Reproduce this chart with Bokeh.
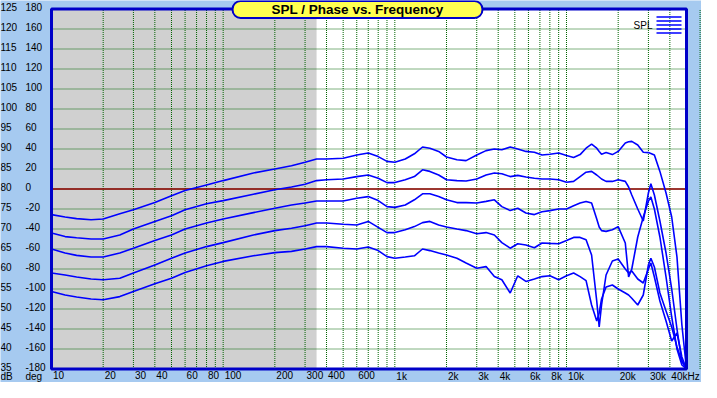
import math
from bokeh.plotting import figure
from bokeh.models import (BoxAnnotation, LabelSet, Label, ColumnDataSource,
                          PolyAnnotation, Range1d)
from bokeh.core.properties import value
from bokeh.embed import file_html
from bokeh.resources import INLINE

# ---------------- data ----------------
freq = [10, 12, 14, 17, 20, 25, 30, 40, 50, 60,
        80, 100, 150, 200, 250, 300, 350, 400, 500, 600,
        700, 800, 900, 1000, 1150, 1300, 1450, 1600, 1800, 2000,
        2300, 2600, 3000, 3400, 3800, 4200, 4700, 5200, 5800, 6500,
        7200, 8000, 9000, 10000, 11000, 12000, 13000, 14000, 15000, 15500,
        16000, 17000, 18500, 20000, 22000, 23000, 24000, 26000, 28000, 30000,
        31000, 32500, 35000, 38000, 41000, 44000, 47000, 50000]

spl_1 = [73.6, 73.0, 72.6, 72.3, 72.5, 73.8, 74.8, 76.6, 78.3, 79.6,
         81.0, 82.1, 84.0, 85.0, 85.8, 86.7, 87.5, 87.5, 87.7, 88.5,
         89.0, 88.1, 86.9, 86.7, 87.5, 88.8, 90.5, 90.2, 89.4, 88.0,
         87.3, 87.1, 88.5, 89.6, 90.0, 89.8, 90.5, 90.0, 89.4, 89.2,
         88.5, 88.7, 89.0, 88.4, 87.9, 88.6, 90.2, 91.2, 90.2, 89.4,
         88.7, 89.1, 88.6, 89.4, 91.5, 91.8, 91.9, 91.0, 89.2, 89.1,
         88.9, 88.5, 84.4, 79.0, 73.0, 63.0, 46.0, 35.0]

spl_2 = [69.0, 68.1, 67.8, 67.5, 67.5, 68.5, 70.0, 71.9, 73.3, 74.8,
         76.3, 77.1, 78.7, 79.8, 80.5, 81.2, 82.1, 82.3, 82.5, 83.1,
         83.5, 82.7, 81.6, 81.6, 82.3, 83.1, 84.8, 84.4, 83.5, 82.3,
         82.1, 82.0, 82.5, 83.5, 84.0, 83.8, 83.1, 83.4, 83.0, 82.7,
         82.5, 82.5, 82.3, 81.7, 81.9, 83.1, 84.2, 84.4, 83.5, 83.0,
         82.5, 81.9, 81.9, 82.3, 81.9, 80.5, 78.5, 75.0, 72.0, 79.0,
         81.3, 78.5, 72.0, 64.0, 55.0, 45.0, 37.0, 35.0]

spl_3 = [65.0, 64.0, 63.4, 63.0, 63.0, 64.0, 65.2, 67.1, 68.5, 70.0,
         71.5, 72.5, 74.1, 75.2, 76.0, 76.5, 77.0, 77.0, 77.0, 77.7,
         78.1, 77.1, 75.6, 75.4, 76.0, 77.3, 78.8, 78.8, 78.1, 77.3,
         76.6, 76.6, 76.5, 76.9, 77.3, 75.6, 74.6, 75.2, 74.0, 73.6,
         74.3, 74.6, 75.0, 75.0, 75.8, 76.5, 76.9, 76.5, 72.5, 70.5,
         69.6, 69.4, 69.8, 70.6, 66.5, 58.0, 60.0, 68.0, 73.0, 77.0,
         78.0, 75.0, 68.0, 58.0, 48.0, 40.0, 36.0, 35.0]

spl_4 = [59.0, 58.5, 58.0, 57.5, 57.3, 57.7, 59.0, 61.0, 62.7, 64.0,
         65.6, 66.6, 68.5, 69.6, 70.2, 70.8, 71.5, 71.5, 71.2, 71.0,
         71.9, 70.4, 69.1, 69.1, 69.8, 70.6, 71.6, 71.9, 71.0, 70.5,
         70.0, 69.6, 68.8, 69.1, 68.5, 66.6, 65.2, 66.3, 66.0, 65.3,
         66.5, 66.4, 66.3, 67.1, 67.9, 67.9, 67.3, 63.5, 52.0, 45.5,
         51.0, 58.5, 62.0, 62.5, 60.0, 59.0, 59.5, 57.5, 56.5, 60.0,
         61.5, 58.0, 52.0, 47.0, 42.0, 44.0, 38.0, 35.0]

spl_5 = [54.4, 53.5, 53.0, 52.5, 52.3, 53.1, 54.4, 56.3, 57.7, 59.1,
         60.8, 61.9, 63.3, 64.1, 64.4, 65.0, 65.6, 65.6, 65.2, 65.0,
         65.5, 64.6, 63.1, 62.7, 63.0, 63.3, 65.0, 64.6, 64.0, 63.5,
         62.7, 61.5, 60.2, 60.6, 58.1, 57.3, 54.0, 58.3, 56.9, 57.5,
         58.1, 58.3, 57.3, 58.3, 59.0, 58.1, 57.1, 51.0, 47.0, 49.0,
         52.5, 55.5, 56.0, 55.0, 54.0, 53.5, 52.7, 51.0, 53.5, 61.0,
         62.7, 60.5, 54.0, 49.5, 45.5, 40.5, 37.0, 35.0]

series = [spl_1, spl_2, spl_3, spl_4, spl_5]
for s in series:
    assert len(s) == len(freq)

x_tick_values = [10, 20, 30, 40, 60, 80, 100, 200, 300, 400, 600,
                 1000, 2000, 3000, 4000, 6000, 8000, 10000, 20000, 30000, 40000]
x_tick_labels = ["10", "20", "30", "40", "60", "80", "100", "200", "300", "400", "600",
                 "1k", "2k", "3k", "4k", "6k", "8k", "10k", "20k", "30k", "40kHz"]
db_ticks = list(range(35, 130, 5))
deg_ticks = list(range(-180, 200, 20))
grid_x = [m * 10 ** e for e in range(1, 5) for m in range(1, 10)]

f_min, f_max = 10, 50000
db_min, db_max = 35, 125
shade_end_hz = 350
ref_db = 80

# ---------------- layout (pixels of the canvas) ----------------
W, H = 701, 382
PL, PR = 51, 686          # plot-area left / right
PT, PB = 8.5, 368.5       # plot-area top / bottom
ppd = (PR - PL) / (math.log10(f_max) - math.log10(f_min))
ppy = (PB - PT) / (db_max - db_min)
x_lo = 10 ** (math.log10(f_min) - PL / ppd)
x_hi = 10 ** (math.log10(f_max) + (W - PR) / ppd)
y_lo = db_min - (H - PB) / ppy
y_hi = db_max + PT / ppy

BG = "#a6caf0"
BORDER = "#0000c8"
GRID = "#006400"
FONT = "Liberation Sans"
FS = "10px"

p = figure(width=W, height=H, x_axis_type="log",
           x_range=Range1d(x_lo, x_hi), y_range=Range1d(y_lo, y_hi),
           x_axis_location=None, y_axis_location=None,
           output_backend="svg", toolbar_location=None,
           min_border=0, min_border_left=0, min_border_right=0,
           min_border_top=0, min_border_bottom=0,
           background_fill_color=BG, border_fill_color=BG,
           outline_line_color=None)
p.xgrid.visible = False
p.ygrid.visible = False

# plot area and shaded low-frequency band
p.add_layout(BoxAnnotation(left=f_min, right=f_max, bottom=db_min, top=db_max,
                           fill_color="white", fill_alpha=1.0, line_color=None,
                           level="image"))
p.add_layout(BoxAnnotation(left=f_min, right=shade_end_hz, bottom=db_min, top=db_max,
                           fill_color="#d0d0d0", fill_alpha=1.0, line_color=None,
                           level="image"))

# dotted grid inside the plot area
p.segment(x0=grid_x, y0=[db_min] * len(grid_x), x1=grid_x, y1=[db_max] * len(grid_x),
          line_color=GRID, line_width=1, line_dash="1 1")
p.segment(x0=[f_min] * len(db_ticks), y0=db_ticks, x1=[f_max] * len(db_ticks), y1=db_ticks,
          line_color=GRID, line_width=1, line_dash="1 1")

# 0 deg / 80 dB reference line
p.line([f_min, f_max], [ref_db, ref_db], line_color="#900000", line_width=1.3)

for s in series:
    p.line(freq, s, line_color="#0000ff", line_width=1.6)

# frame border
p.add_layout(BoxAnnotation(left=f_min, right=f_max, bottom=db_min, top=db_max,
                           fill_alpha=0, line_color=BORDER, line_alpha=1.0,
                           line_width=3, level="overlay"))

# ---------------- texts ----------------
ysrc = ColumnDataSource(dict(y=db_ticks, db=[str(v) for v in db_ticks],
                             deg=[str(v) for v in deg_ticks]))
for col, xx in (("db", 0), ("deg", 25)):
    p.add_layout(LabelSet(x=xx, y="y", text=col, source=ysrc, x_units="screen",
                          y_units="data", text_baseline="middle", y_offset=2,
                          text_font=value(FONT), text_font_size=value(FS),
                          text_color="black", level="overlay"))

xsrc = ColumnDataSource(dict(x=x_tick_values, y=[db_min] * len(x_tick_values),
                             t=x_tick_labels))
p.add_layout(LabelSet(x="x", y="y", text="t", source=xsrc,
                      text_baseline="top", text_align="left",
                      x_offset=1.5, y_offset=-1.5, text_font=value(FONT),
                      text_font_size=value(FS), text_color="black", level="overlay"))

for txt, xx in (("dB", 0), ("deg", 25)):
    p.add_layout(Label(x=xx, y=db_min, x_units="screen", y_units="data", text=txt,
                       y_offset=-1.5, text_baseline="top", text_font=FONT,
                       text_font_size=FS, text_color="black", level="overlay"))

# title box
p.add_layout(Label(x=357, y=H - 9, x_units="screen", y_units="screen",
                   text="SPL / Phase vs. Frequency", text_align="center",
                   text_baseline="middle", text_font=FONT, text_font_style="bold",
                   text_font_size="13.5px", text_color="black",
                   background_fill_color="#ffff50", background_fill_alpha=1.0,
                   border_line_color=BORDER, border_line_width=2,
                   border_radius=8, level="overlay",
                   padding=dict(left=39, right=39, top=1, bottom=1)))

# legend: "SPL" with a stacked-lines icon
p.add_layout(Label(x=PR - 34, y=H - (PT + 16), x_units="screen", y_units="screen",
                   text="SPL", text_align="right", text_baseline="middle",
                   text_font=FONT, text_font_size=FS, text_color="black",
                   level="overlay"))
for off in (8, 12, 16, 20, 24):
    yy = H - (PT + off)
    p.add_layout(PolyAnnotation(xs=[PR - 30, PR - 5, PR - 30], ys=[yy, yy, yy],
                                xs_units="screen", ys_units="screen",
                                fill_alpha=0, line_color="#0000ff", line_alpha=1.0,
                                line_width=1.5, level="overlay"))

open("out.html", "w").write(file_html(p, INLINE))
